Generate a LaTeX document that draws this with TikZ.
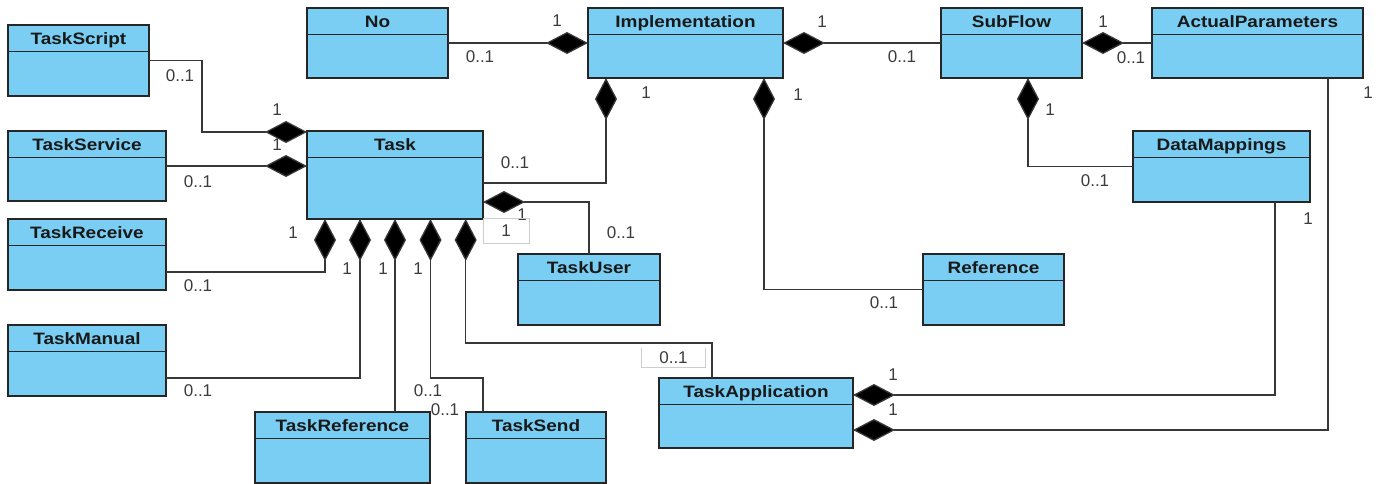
\documentclass[tikz,border=0pt]{standalone}
\usepackage{fontspec}
\setmainfont{Liberation Sans}
\newfontfamily\titlefont{Liberation Sans}[FakeStretch=1.15]
\usetikzlibrary{arrows.meta}

\definecolor{classfill}{RGB}{122,206,243}
\definecolor{classborder}{RGB}{38,38,38}
\definecolor{linkcol}{RGB}{55,55,55}
\definecolor{multcol}{RGB}{60,60,60}
\definecolor{framecol}{RGB}{205,205,205}

\tikzset{
  classbox/.style={draw=classborder, fill=classfill, line width=1.5pt,
    rectangle, inner sep=0pt, outer sep=0pt},
  classrule/.style={draw=classborder, line width=1.4pt},
  classtitle/.style={inner sep=0pt, text=black!90,
    font=\titlefont\bfseries\fontsize{16.5}{17}\selectfont},
  comp/.style={draw=linkcol, line width=1.3pt,
    -{Diamond[fill=black, length=42pt, width=22pt]}},
  mult/.style={inner sep=0pt, text=multcol,
    font=\fontsize{17}{17}\selectfont},
  multframe/.style={draw=framecol, line width=1pt},
}

% \umlclass{name}{left}{top}{width}{height}{title}
\newcommand\umlclass[6]{%
  \node[classbox, minimum width=#4pt, minimum height=#5pt, anchor=north west]
    (#1) at (#2,#3) {};
  \draw[classrule] ([yshift=-26.5pt]#1.north west) -- ([yshift=-26.5pt]#1.north east);
  \node[classtitle, anchor=base] (#1-title) at ([yshift=-19.5pt]#1.north) {#6};
}

\begin{document}
\begin{tikzpicture}[x=1pt, y=-1pt]
\useasboundingbox[fill=white] (0,0) rectangle (1378,484);

% ---- classes ----
\umlclass{taskscript}{8}{25}{141}{71}{TaskScript}
\umlclass{taskservice}{8}{131}{158}{70}{TaskService}
\umlclass{taskreceive}{8}{219}{158}{71}{TaskReceive}
\umlclass{taskmanual}{8}{325}{158}{71}{TaskManual}
\umlclass{no}{307}{8}{141}{70}{No}
\umlclass{implementation}{588}{8}{195}{70}{Implementation}
\umlclass{subflow}{941}{8}{141}{70}{SubFlow}
\umlclass{actualparameters}{1152}{8}{211}{70}{ActualParameters}
\umlclass{task}{307}{131}{176}{88}{Task}
\umlclass{datamappings}{1133}{131}{177}{71}{DataMappings}
\umlclass{taskuser}{518}{254}{142}{71}{TaskUser}
\umlclass{reference}{923}{254}{141}{71}{Reference}
\umlclass{taskapplication}{659}{378}{194}{70}{TaskApplication}
\umlclass{taskreference}{255}{412}{175}{71}{TaskReference}
\umlclass{tasksend}{466}{412}{140}{71}{TaskSend}

% ---- multiplicities ----
\node[mult] (m1)  at (180,76)  {0..1};
\node[mult] (m2)  at (277,110) {1};
\node[mult] (m3)  at (277,145) {1};
\node[mult] (m4)  at (198,182) {0..1};
\node[mult] (m5)  at (198,286) {0..1};
\node[mult] (m6)  at (198,391) {0..1};
\node[mult] (m7)  at (293,233) {1};
\node[mult] (m8)  at (347,269) {1};
\node[mult] (m9)  at (383,269) {1};
\node[mult] (m10) at (418,269) {1};
\node[mult] (m11) at (428,391) {0..1};
\node[mult] (m12) at (445,410) {0..1};
\node[mult] (m13) at (515,163) {0..1};
\node[mult] (m14) at (522,215) {1};
\node[mult, multframe, minimum width=46pt, minimum height=25pt] (m15) at (506,230.5) {1};
\node[mult] (m16) at (621,233) {0..1};
\node[mult] (m17) at (480,57)  {0..1};
\node[mult] (m18) at (557,21)  {1};
\node[mult] (m19) at (646,93)  {1};
\node[mult] (m20) at (798,95)  {1};
\node[mult] (m21) at (822,22)  {1};
\node[mult] (m22) at (902,57)  {0..1};
\node[mult] (m23) at (1103,22) {1};
\node[mult] (m24) at (1131,58) {0..1};
\node[mult] (m25) at (1050,110) {1};
\node[mult] (m26) at (1095,181) {0..1};
\node[mult] (m27) at (1368,93) {1};
\node[mult] (m28) at (1308,219) {1};
\node[mult] (m29) at (884,303) {0..1};
\node[mult, minimum width=63pt, minimum height=19pt] (m30) at (673.5,357.5) {0..1};
\draw[multframe] (m30.north west) -- (m30.south west) -- (m30.south east) -- (m30.north east);
\node[mult] (m31) at (893,375) {1};
\node[mult] (m32) at (893,410) {1};

% ---- compositions (diamond at the owning class) ----
\draw[comp] (taskscript.east) -- ++(53,0) |- ([yshift=-1pt]task.north west);
\draw[comp] (taskservice.east) -- (taskservice.east -| task.west);
\draw[comp] ([yshift=-53pt]taskreceive.north east) -| ([xshift=18pt]task.south west);
\draw[comp] ([yshift=-53pt]taskmanual.north east) -| ([xshift=53pt]task.south west);
\draw[comp] ([xshift=88pt]task.south west |- taskreference.north) -- ([xshift=88pt]task.south west);
\draw[comp] ([xshift=17pt]tasksend.north west) -- ++(0,-34) -| ([xshift=123.5pt]task.south west);
\draw[comp] ([xshift=53pt]taskapplication.north west) -- ++(0,-35) -| ([xshift=158.7pt]task.south west);
\draw[comp] (taskuser.north) |- ([yshift=-71pt]task.north east);
\draw[comp] ([yshift=-52pt]task.north east) -| ([xshift=18pt]implementation.south west);
\draw[comp] (no.east) -- (implementation.west);
\draw[comp] (subflow.west) -- (implementation.east);
\draw[comp] (reference.west) -| ([xshift=-19pt]implementation.south east);
\draw[comp] (actualparameters.west) -- (subflow.east);
\draw[comp] (datamappings.west) -| ([xshift=16.5pt]subflow.south);
\draw[comp] ([xshift=-35pt]datamappings.south east) |- ([yshift=-17pt]taskapplication.north east);
\draw[comp] ([xshift=-35pt]actualparameters.south east) |- ([yshift=-52pt]taskapplication.north east);
\end{tikzpicture}
\end{document}
